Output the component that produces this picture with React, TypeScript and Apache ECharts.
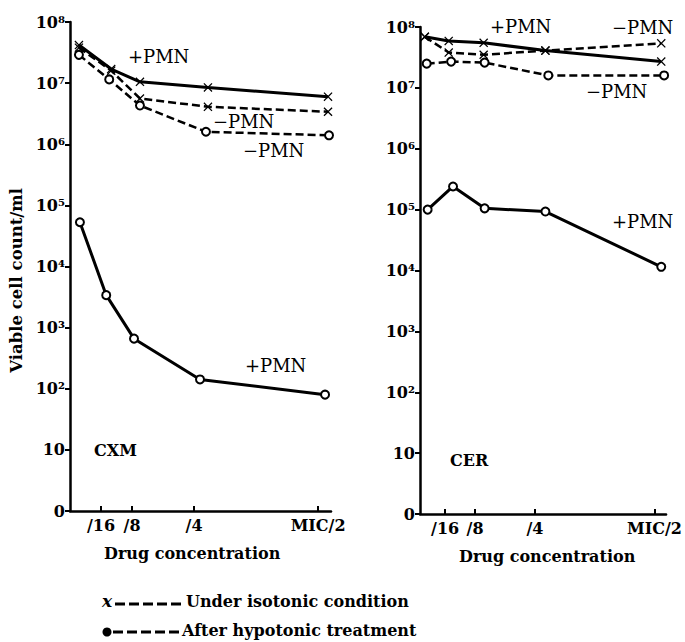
import React, { useEffect, useRef } from "react";
import * as echarts from "echarts";

// Drug concentration as a fraction of MIC
const tickValues = [0.0625, 0.125, 0.25, 0.5];
const tickLabels = ["/16", "/8", "/4", "MIC/2"];

// CXM panel
const cxmIsoX = [0.018, 0.083, 0.141, 0.278, 0.52];
const cxmIsoPlus = [4.2e7, 1.7e7, 1.05e7, 8.5e6, 6.0e6];
const cxmIsoMinus = [3.8e7, 1.6e7, 5.6e6, 4.1e6, 3.4e6];
const cxmHypoMinusX = [0.018, 0.079, 0.141, 0.274, 0.522];
const cxmHypoMinus = [2.9e7, 1.15e7, 4.3e6, 1.6e6, 1.4e6];
const cxmHypoPlusX = [0.02, 0.073, 0.129, 0.262, 0.514];
const cxmHypoPlus = [5.3e4, 3.4e3, 660, 142, 80];

// CER panel
const cerIsoX = [0.02, 0.07, 0.143, 0.272, 0.514];
const cerIsoPlus = [6.9e7, 5.9e7, 5.5e7, 4.1e7, 2.7e7];
const cerIsoMinus = [6.9e7, 3.8e7, 3.5e7, 4.1e7, 5.4e7];
const cerHypoMinusX = [0.024, 0.075, 0.145, 0.278, 0.52];
const cerHypoMinus = [2.5e7, 2.7e7, 2.6e7, 1.6e7, 1.6e7];
const cerHypoPlusX = [0.026, 0.079, 0.145, 0.272, 0.514];
const cerHypoPlus = [1.0e5, 2.4e5, 1.05e5, 9.3e4, 1.15e4];

const SUP: Record<string, string> = { "2": "²", "3": "³", "4": "⁴", "5": "⁵", "6": "⁶", "7": "⁷", "8": "⁸" };
const FONT = "DejaVu Serif";
const CROSS = "path://M0,1L1,0L5,4L9,0L10,1L6,5L10,9L9,10L5,6L1,10L0,9L4,5Z";

function pairs(xs: number[], ys: number[]) {
  return xs.map((x, i) => [x, ys[i]]);
}

export default function App() {
  const ref = useRef<HTMLDivElement>(null);
  useEffect(() => {
    if (!ref.current) return;
    const chart = echarts.init(ref.current, undefined, { renderer: "svg" });

    const yAxis = (gridIndex: number) => ({
      type: "log",
      gridIndex,
      logBase: 10,
      min: 1,
      max: 1e8,
      interval: 1,
      axisLine: { show: true, lineStyle: { color: "#000", width: 2.5 } },
      axisTick: { show: true, inside: false, length: 5, lineStyle: { color: "#000", width: 2 } },
      splitLine: { show: false },
      minorTick: { show: false },
      axisLabel: {
        margin: 5,
        color: "#000",
        fontFamily: FONT,
        fontWeight: "bold",
        fontSize: 16,
        formatter: (v: number) => {
          const e = Math.round(Math.log10(v));
          if (e === 0) return "0";
          if (e === 1) return "10";
          return "10" + SUP[String(e)];
        },
      },
    });

    const xAxis = (gridIndex: number, min: number, max: number) => ({
      type: "value",
      gridIndex,
      min,
      max,
      axisLine: { show: true, onZero: false, lineStyle: { color: "#000", width: 2.5 } },
      axisTick: {
        show: true,
        inside: true,
        length: 5,
        customValues: tickValues,
        lineStyle: { color: "#000", width: 2 },
      },
      splitLine: { show: false },
      axisLabel: {
        margin: 6,
        color: "#000",
        fontFamily: FONT,
        fontWeight: "bold",
        fontSize: 16,
        customValues: tickValues,
        formatter: (v: number) => {
          const i = tickValues.findIndex((t) => Math.abs(t - v) < 1e-9);
          return i >= 0 ? tickLabels[i] : "";
        },
      },
    });

    const line = (
      idx: number,
      data: number[][],
      dashed: boolean,
      cross: boolean
    ) => ({
      type: "line",
      xAxisIndex: idx,
      yAxisIndex: idx,
      data,
      symbol: cross ? CROSS : "emptyCircle",
      symbolSize: cross ? 9 : 8,
      showSymbol: true,
      lineStyle: { color: "#000", width: dashed ? 2.5 : 3, type: dashed ? [8, 4] : "solid" },
      itemStyle: cross
        ? { color: "#000", borderWidth: 0 }
        : { color: "#000", borderColor: "#000", borderWidth: 2.2 },
      z: cross ? 3 : 4,
    });

    const txt = (x: number, y: number, text: string, size = 17, bold = false, italic = false) => ({
      type: "text",
      left: x,
      top: y,
      style: {
        text,
        fill: "#000",
        font: `${italic ? "italic " : ""}${bold ? "bold " : ""}${size}px "${FONT}"`,
      },
    });

    const dashLine = (x1: number, x2: number, y: number) => ({
      type: "line",
      shape: { x1, y1: y, x2, y2: y },
      style: { stroke: "#000", lineWidth: 2.8, lineDash: [10, 4] },
    });

    chart.setOption({
      animation: false,
      backgroundColor: "#fff",
      grid: [
        { left: 70, top: 22, width: 261, height: 489 },
        { left: 420, top: 27, width: 255, height: 487 },
      ],
      xAxis: [xAxis(0, 0, 0.526), xAxis(1, 0.01, 0.524)],
      yAxis: [yAxis(0), yAxis(1)],
      series: [
        line(0, pairs(cxmIsoX, cxmIsoPlus), false, true),
        line(0, pairs(cxmIsoX, cxmIsoMinus), true, true),
        line(0, pairs(cxmHypoMinusX, cxmHypoMinus), true, false),
        line(0, pairs(cxmHypoPlusX, cxmHypoPlus), false, false),
        line(1, pairs(cerIsoX, cerIsoPlus), false, true),
        line(1, pairs(cerIsoX, cerIsoMinus), true, true),
        line(1, pairs(cerHypoMinusX, cerHypoMinus), true, false),
        line(1, pairs(cerHypoPlusX, cerHypoPlus), false, false),
      ],
      graphic: [
        txt(128, 47, "+PMN", 18),
        txt(213, 112, "−PMN", 18),
        txt(243, 141, "−PMN", 18),
        txt(245, 356, "+PMN", 18),
        txt(94, 442, "CXM", 16, true),
        txt(490, 17, "+PMN", 18),
        txt(612, 18, "−PMN", 18),
        txt(586, 82, "−PMN", 18),
        txt(612, 212, "+PMN", 18),
        txt(450, 452, "CER", 16, true),
        txt(104, 545, "Drug concentration", 16, true),
        txt(459, 548, "Drug concentration", 16, true),
        txt(102, 592, "x", 17, true, true),
        dashLine(115, 183, 604),
        txt(186, 593, "Under isotonic condition", 16, true),
        { type: "circle", shape: { cx: 107, cy: 632, r: 4.5 }, style: { fill: "#000" } },
        dashLine(113, 180, 632),
        txt(182, 622, "After hypotonic treatment", 16, true),
        {
          type: "text",
          left: 8,
          top: 188,
          rotation: Math.PI / 2,
          style: {
            text: "Viable cell count/ml",
            fill: "#000",
            font: `bold 16.5px "${FONT}"`,
          },
        },
      ],
    });
    return () => chart.dispose();
  }, []);
  return (
    <div
      ref={ref}
      style={{ position: "fixed", left: 0, top: 0, width: 685, height: 642, background: "#fff" }}
    />
  );
}
